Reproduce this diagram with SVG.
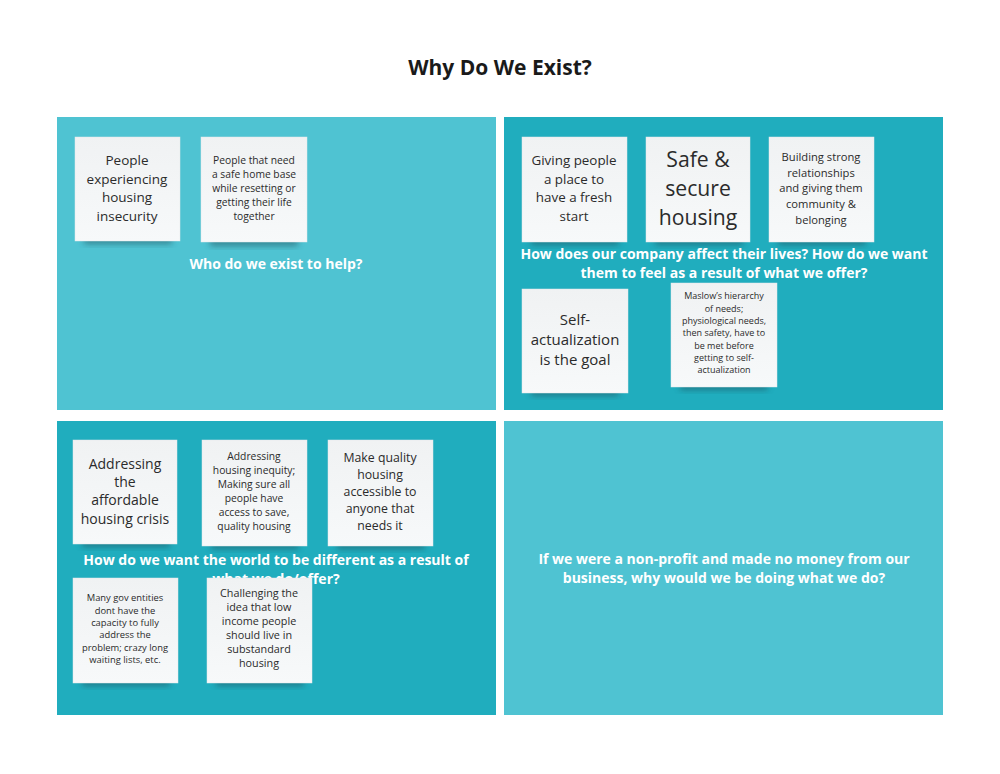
<svg xmlns="http://www.w3.org/2000/svg" width="1000" height="774" viewBox="0 0 1000 774">
<defs>
<filter id="sh" x="-20%" y="-50%" width="140%" height="200%"><feGaussianBlur stdDeviation="3"/></filter>
<linearGradient id="ng" x1="0" y1="0" x2="0" y2="1"><stop offset="0" stop-color="#f0f2f3"/><stop offset="1" stop-color="#f7f9fa"/></linearGradient>
</defs>
<style>
.lt{fill:#4fc3d2}
.dk{fill:#20adbe}
.note{fill:url(#ng);stroke:#e4e8ea;stroke-width:0.5}
.shd{fill:#1a4a55;opacity:0.5}
.nt{font-family:"Open Sans","Noto Sans",sans-serif;fill:#2b2b2b;text-anchor:middle}
.q{font-family:"Open Sans","Noto Sans",sans-serif;font-weight:bold;fill:#ffffff;text-anchor:middle;font-size:14px}
.title{font-family:"Open Sans","Noto Sans",sans-serif;font-weight:bold;fill:#1a1a1a;text-anchor:middle;font-size:21px}
</style>
<rect width="1000" height="774" fill="#ffffff"/>
<text class="title" x="500" y="75">Why Do We Exist?</text>

<g id="panel-tl">
<rect class="lt" x="57" y="117" width="439" height="293"/>
<g id="n1"><rect class="shd" x="84" y="236" width="88" height="8" filter="url(#sh)"/><rect class="note" x="75" y="137" width="105" height="104"/>
<text class="nt" font-size="13.5"><tspan x="127" y="165">People</tspan><tspan x="127" y="184">experiencing</tspan><tspan x="127" y="202">housing</tspan><tspan x="127" y="221">insecurity</tspan></text></g>
<g id="n2"><rect class="shd" x="210" y="238" width="88" height="8" filter="url(#sh)"/><rect class="note" x="201" y="137" width="106" height="105"/>
<text class="nt" font-size="10.3"><tspan x="254" y="164">People that need</tspan><tspan x="254" y="178">a safe home base</tspan><tspan x="254" y="192">while resetting or</tspan><tspan x="254" y="206">getting their life</tspan><tspan x="254" y="220">together</tspan></text></g>
<text class="q" x="276" y="269">Who do we exist to help?</text>
</g>

<g id="panel-tr">
<rect class="dk" x="504" y="117" width="439" height="293"/>
<g id="n3"><rect class="shd" x="531" y="237" width="88" height="8" filter="url(#sh)"/><rect class="note" x="522" y="137" width="105" height="105"/>
<text class="nt" font-size="13.4"><tspan x="574" y="165">Giving people</tspan><tspan x="574" y="184">a place to</tspan><tspan x="574" y="202">have a fresh</tspan><tspan x="574" y="221">start</tspan></text></g>
<g id="n4"><rect class="shd" x="655" y="237" width="88" height="8" filter="url(#sh)"/><rect class="note" x="646" y="137" width="104" height="105"/>
<text class="nt" font-size="21.2"><tspan x="698" y="167">Safe &amp;</tspan><tspan x="698" y="196">secure</tspan><tspan x="698" y="225">housing</tspan></text></g>
<g id="n5"><rect class="shd" x="778" y="237" width="88" height="8" filter="url(#sh)"/><rect class="note" x="769" y="137" width="105" height="105"/>
<text class="nt" font-size="11.2"><tspan x="821" y="161">Building strong</tspan><tspan x="821" y="177">relationships</tspan><tspan x="821" y="192">and giving them</tspan><tspan x="821" y="208">community &amp;</tspan><tspan x="821" y="224">belonging</tspan></text></g>
<text class="q"><tspan x="724" y="259">How does our company affect their lives? How do we want</tspan><tspan x="724" y="278">them to feel as a result of what we offer?</tspan></text>
<g id="n6"><rect class="shd" x="531" y="388" width="88" height="8" filter="url(#sh)"/><rect class="note" x="522" y="289" width="106" height="104"/>
<text class="nt" font-size="15"><tspan x="575" y="325">Self-</tspan><tspan x="575" y="345">actualization</tspan><tspan x="575" y="365">is the goal</tspan></text></g>
<g id="n7"><rect class="shd" x="680" y="382" width="88" height="8" filter="url(#sh)"/><rect class="note" x="671" y="283" width="106" height="104"/>
<text class="nt" font-size="9"><tspan x="724" y="299">Maslow’s hierarchy</tspan><tspan x="724" y="312">of needs;</tspan><tspan x="724" y="324">physiological needs,</tspan><tspan x="724" y="336">then safety, have to</tspan><tspan x="724" y="349">be met before</tspan><tspan x="724" y="361">getting to self-</tspan><tspan x="724" y="373">actualization</tspan></text></g>
</g>

<g id="panel-bl">
<rect class="dk" x="57" y="421" width="439" height="294"/>
<g id="n8"><rect class="shd" x="82" y="539" width="88" height="8" filter="url(#sh)"/><rect class="note" x="73" y="440" width="104" height="104"/>
<text class="nt" font-size="14"><tspan x="125" y="469">Addressing</tspan><tspan x="125" y="487">the</tspan><tspan x="125" y="505">affordable</tspan><tspan x="125" y="524">housing crisis</tspan></text></g>
<g id="n9"><rect class="shd" x="211" y="541" width="88" height="8" filter="url(#sh)"/><rect class="note" x="202" y="440" width="105" height="106"/>
<text class="nt" font-size="10.3"><tspan x="254" y="460">Addressing</tspan><tspan x="254" y="474">housing inequity;</tspan><tspan x="254" y="488">Making sure all</tspan><tspan x="254" y="502">people have</tspan><tspan x="254" y="516">access to save,</tspan><tspan x="254" y="530">quality housing</tspan></text></g>
<g id="n10"><rect class="shd" x="337" y="541" width="88" height="8" filter="url(#sh)"/><rect class="note" x="328" y="440" width="105" height="106"/>
<text class="nt" font-size="12.3"><tspan x="380" y="462">Make quality</tspan><tspan x="380" y="479">housing</tspan><tspan x="380" y="496">accessible to</tspan><tspan x="380" y="513">anyone that</tspan><tspan x="380" y="530">needs it</tspan></text></g>
<text class="q"><tspan x="276" y="565">How do we want the world to be different as a result of</tspan><tspan x="276" y="584">what we do/offer?</tspan></text>
<g id="n11"><rect class="shd" x="82" y="678" width="88" height="8" filter="url(#sh)"/><rect class="note" x="73" y="578" width="105" height="105"/>
<text class="nt" font-size="9.4"><tspan x="125" y="601">Many gov entities</tspan><tspan x="125" y="614">dont have the</tspan><tspan x="125" y="626">capacity to fully</tspan><tspan x="125" y="638">address the</tspan><tspan x="125" y="651">problem; crazy long</tspan><tspan x="125" y="663">waiting lists, etc.</tspan></text></g>
<g id="n12"><rect class="shd" x="216" y="678" width="88" height="8" filter="url(#sh)"/><rect class="note" x="207" y="578" width="105" height="105"/>
<text class="nt" font-size="10.8"><tspan x="259" y="597">Challenging the</tspan><tspan x="259" y="611">idea that low</tspan><tspan x="259" y="625">income people</tspan><tspan x="259" y="639">should live in</tspan><tspan x="259" y="653">substandard</tspan><tspan x="259" y="667">housing</tspan></text></g>
</g>

<g id="panel-br">
<rect class="lt" x="504" y="421" width="439" height="294"/>
<text class="q"><tspan x="724" y="564">If we were a non-profit and made no money from our</tspan><tspan x="724" y="583">business, why would we be doing what we do?</tspan></text>
</g>
<g id="connectors"/>
</svg>
